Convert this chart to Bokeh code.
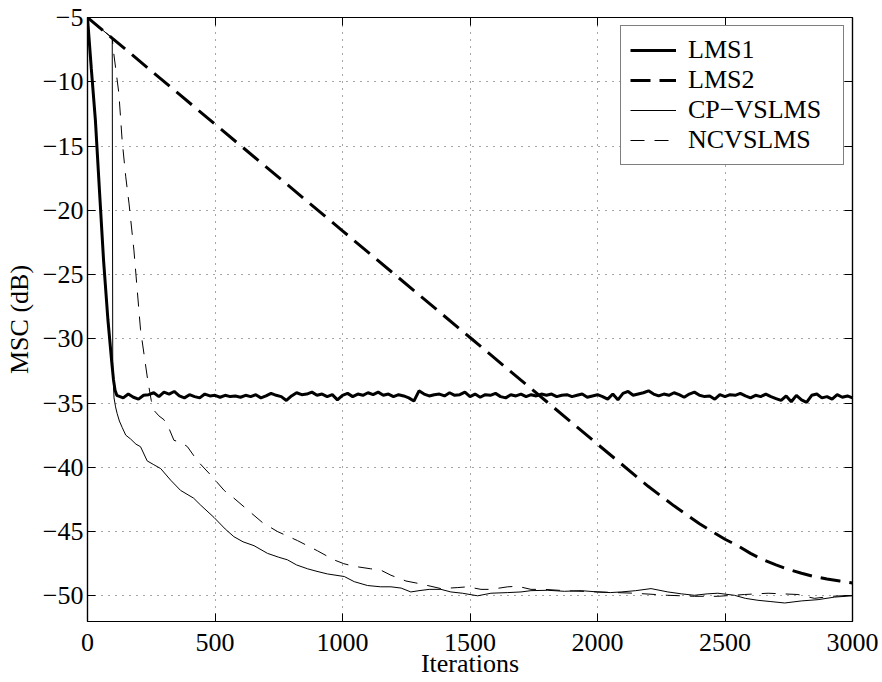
from bokeh.plotting import figure
from bokeh.models import LinearAxis, Legend, LegendItem, FixedTicker, Range1d
from bokeh.embed import file_html
from bokeh.resources import INLINE

# ---------------- data ----------------
x_ticks = [0, 500, 1000, 1500, 2000, 2500, 3000]
x_tick_labels = ["0", "500", "1000", "1500", "2000", "2500", "3000"]
y_ticks = [-50, -45, -40, -35, -30, -25, -20, -15, -10, -5]
y_tick_labels = ["\u221250", "\u221245", "\u221240", "\u221235", "\u221230",
                 "\u221225", "\u221220", "\u221215", "\u221210", "\u22125"]

# LMS1: fast convergence then noisy floor
lms1_head_x = [0, 15, 31, 47, 63, 80, 95, 102, 108, 115]
lms1_head_y = [-5, -9, -13, -18.5, -23.9, -28.5, -31.8, -33.2, -34.0, -34.4]
lms1_tail_x = list(range(120, 3001, 20))
lms1_tail_y = [
    -34.45, -34.6, -34.3, -34.55, -34.7, -34.4, -34.35, -34.2, -34.5, -34.15,
    -34.3, -34.1, -34.45, -34.6, -34.35, -34.5, -34.6, -34.3, -34.45, -34.4,
    -34.55, -34.4, -34.5, -34.45, -34.55, -34.4, -34.5, -34.35, -34.6, -34.45,
    -34.25, -34.4, -34.5, -34.8, -34.45, -34.2, -34.35, -34.3, -34.15, -34.4,
    -34.3, -34.5, -34.35, -34.75, -34.4, -34.25, -34.5, -34.3, -34.4, -34.2,
    -34.35, -34.15, -34.4, -34.3, -34.5, -34.35, -34.45, -34.6, -34.85, -34.05,
    -34.3, -34.45, -34.35, -34.3, -34.45, -34.2, -34.4, -34.35, -34.15, -34.5,
    -34.3, -34.55, -34.35, -34.4, -34.25, -34.5, -34.6, -34.35, -34.45, -34.3,
    -34.5, -34.35, -34.45, -34.3, -34.4, -34.3, -34.5, -34.4, -34.35, -34.5,
    -34.4, -34.3, -34.55, -34.45, -34.35, -34.5, -34.7, -34.3, -34.75, -34.25,
    -34.1, -34.4, -34.3, -34.2, -34.05, -34.3, -34.45, -34.3, -34.4, -34.2,
    -34.35, -34.55, -34.3, -34.15, -34.4, -34.5, -34.45, -34.7, -34.35, -34.5,
    -34.35, -34.4, -34.25, -34.45, -34.6, -34.4, -34.5, -34.3, -34.5, -34.65,
    -34.8, -34.45, -34.9, -34.4, -34.75, -34.95, -34.4, -34.3, -34.6, -34.5,
    -34.7, -34.35, -34.55, -34.45, -34.6,
]
lms1_x = lms1_head_x + lms1_tail_x
lms1_y = lms1_head_y + lms1_tail_y

# LMS2: slow, nearly straight descent
lms2_x = [0, 100, 500, 1000, 1500, 2000, 2200, 2300, 2400, 2450, 2500, 2550,
          2600, 2650, 2700, 2750, 2800, 2850, 2900, 2950, 3000]
lms2_y = [-5, -6.66, -13.3, -21.6, -29.9, -38.2, -41.5, -43.0, -44.4, -45.0,
          -45.6, -46.1, -46.7, -47.2, -47.6, -47.95, -48.25, -48.5, -48.7,
          -48.85, -49.0]

# CP-VSLMS
cp_x = [0, 97, 99, 104, 110, 116, 125, 136, 150, 169, 190, 208, 234, 260, 287,
        326, 365, 416, 444, 496, 540, 574, 610, 653, 706, 750, 784, 820, 863,
        900, 941, 1007, 1046, 1098, 1150, 1190, 1230, 1268, 1300, 1340, 1386,
        1425, 1470, 1530, 1582, 1648, 1700, 1739, 1805, 1870, 1936, 2001, 2050,
        2093, 2150, 2210, 2276, 2330, 2380, 2430, 2472, 2537, 2580, 2629, 2680,
        2734, 2799, 2865, 2930, 3000]
cp_y = [-5, -6.6, -32.0, -34.6, -35.3, -35.8, -36.4, -36.9, -37.5, -37.8,
        -38.2, -38.4, -39.5, -39.8, -40.1, -41.0, -41.8, -42.4, -42.95, -43.9,
        -44.8, -45.4, -45.8, -46.1, -46.7, -47.0, -47.2, -47.6, -47.9, -48.1,
        -48.3, -48.5, -48.9, -49.2, -49.3, -49.3, -49.4, -49.7, -49.6, -49.5,
        -49.5, -49.7, -49.8, -50.0, -49.8, -49.75, -49.7, -49.6, -49.57, -49.65,
        -49.6, -49.7, -49.75, -49.7, -49.6, -49.44, -49.7, -49.85, -49.96,
        -49.85, -49.8, -49.96, -50.2, -50.35, -50.45, -50.56, -50.4, -50.3,
        -50.1, -50.0]

# NCVSLMS
nc_x = [0, 97, 103, 123, 136, 150, 163, 182, 208, 236, 250, 262, 280, 300, 320,
        339, 370, 392, 431, 483, 536, 574, 627, 686, 745, 823, 902, 966, 1005,
        1044, 1111, 1150, 1190, 1249, 1288, 1347, 1386, 1452, 1491, 1543, 1582,
        1648, 1687, 1739, 1792, 1870, 2001, 2145, 2276, 2380, 2472, 2577, 2669,
        2786, 2851, 2917, 3000]
nc_y = [-5, -6.6, -7.8, -10.9, -14.6, -17.4, -19.5, -23.1, -29.3, -33.2, -34.8,
        -35.6, -36.0, -36.3, -37.0, -37.9, -38.1, -38.4, -39.5, -40.6, -41.8,
        -42.4, -43.3, -44.3, -45.0, -45.7, -46.5, -47.2, -47.5, -47.7, -47.9,
        -48.0, -48.4, -48.85, -49.0, -49.26, -49.44, -49.36, -49.3, -49.5,
        -49.5, -49.3, -49.26, -49.5, -49.5, -49.6, -49.7, -49.8, -49.96, -50.04,
        -50.04, -49.9, -49.8, -49.9, -50.2, -50.04, -49.96]

series_names = ["LMS1", "LMS2", "CP\u2212VSLMS", "NCVSLMS"]

# ---------------- figure ----------------
FONT = "Liberation Serif"
p = figure(width=882, height=682,
           x_range=Range1d(0, 3000), y_range=Range1d(-52, -5),
           output_backend="svg", toolbar_location=None,
           min_border_left=87, min_border_right=30,
           min_border_top=17, min_border_bottom=61)
p.background_fill_color = "white"
p.border_fill_color = "white"
p.outline_line_color = "black"
p.outline_line_width = 1.2

r1 = p.line(lms1_x, lms1_y, line_color="black", line_width=3)
r2 = p.line(lms2_x, lms2_y, line_color="black", line_width=3, line_dash="20 9")
r3 = p.line(cp_x, cp_y, line_color="black", line_width=1)
r4 = p.line(nc_x, nc_y, line_color="black", line_width=1, line_dash="14 10")


def style_axis(ax):
    ax.major_tick_in = 8
    ax.major_tick_out = 0
    ax.minor_tick_in = 0
    ax.minor_tick_out = 0
    ax.axis_line_color = "black"
    ax.axis_line_width = 1.2
    ax.major_tick_line_color = "black"
    ax.major_tick_line_width = 1
    ax.major_label_text_font = FONT
    ax.major_label_text_color = "black"
    ax.major_label_text_font_size = "26px"


p.xaxis.ticker = FixedTicker(ticks=x_ticks)
p.yaxis.ticker = FixedTicker(ticks=y_ticks)
p.xaxis.major_label_overrides = dict(zip(x_ticks, x_tick_labels))
p.yaxis.major_label_overrides = dict(zip(y_ticks, y_tick_labels))
style_axis(p.xaxis[0])
style_axis(p.yaxis[0])
p.xaxis.major_label_standoff = 12
p.yaxis.major_label_standoff = 4
p.xaxis.axis_label = "Iterations"
p.yaxis.axis_label = "MSC (dB)"
for ax in (p.xaxis[0], p.yaxis[0]):
    ax.axis_label_text_font = FONT
    ax.axis_label_text_font_size = "26px"
    ax.axis_label_text_font_style = "normal"
    ax.axis_label_text_color = "black"
p.xaxis.axis_label_standoff = -5
p.yaxis.axis_label_standoff = 6

# box-style tick marks on the top and right edges (no labels)
top_ax = LinearAxis(ticker=FixedTicker(ticks=x_ticks))
style_axis(top_ax)
top_ax.major_label_overrides = {t: "" for t in x_ticks}
top_ax.major_label_text_font_size = "0px"
top_ax.major_label_standoff = 0
p.add_layout(top_ax, "above")
right_ax = LinearAxis(ticker=FixedTicker(ticks=y_ticks))
style_axis(right_ax)
right_ax.major_label_overrides = {t: "" for t in y_ticks}
right_ax.major_label_text_font_size = "0px"
right_ax.major_label_standoff = 0
p.add_layout(right_ax, "right")

p.xgrid.ticker = FixedTicker(ticks=x_ticks)
p.ygrid.ticker = FixedTicker(ticks=y_ticks)
for g in (p.xgrid[0], p.ygrid[0]):
    g.grid_line_color = "#222222"
    g.grid_line_alpha = 0.8
    g.grid_line_dash = "1 6"
    g.grid_line_width = 1

legend = Legend(items=[LegendItem(label=n, renderers=[r]) for n, r in
                       zip(series_names, [r1, r2, r3, r4])],
                location="top_right")
legend.label_text_font = FONT
legend.label_text_font_size = "26px"
legend.label_text_color = "black"
legend.border_line_color = "black"
legend.border_line_width = 1
legend.background_fill_color = "white"
legend.background_fill_alpha = 1
legend.glyph_width = 46
legend.glyph_height = 24
legend.label_height = 24
legend.label_width = 146
legend.label_standoff = 12
legend.spacing = 0
legend.padding = 9
legend.margin = 8
p.add_layout(legend)

open("out.html", "w").write(file_html(p, INLINE))
